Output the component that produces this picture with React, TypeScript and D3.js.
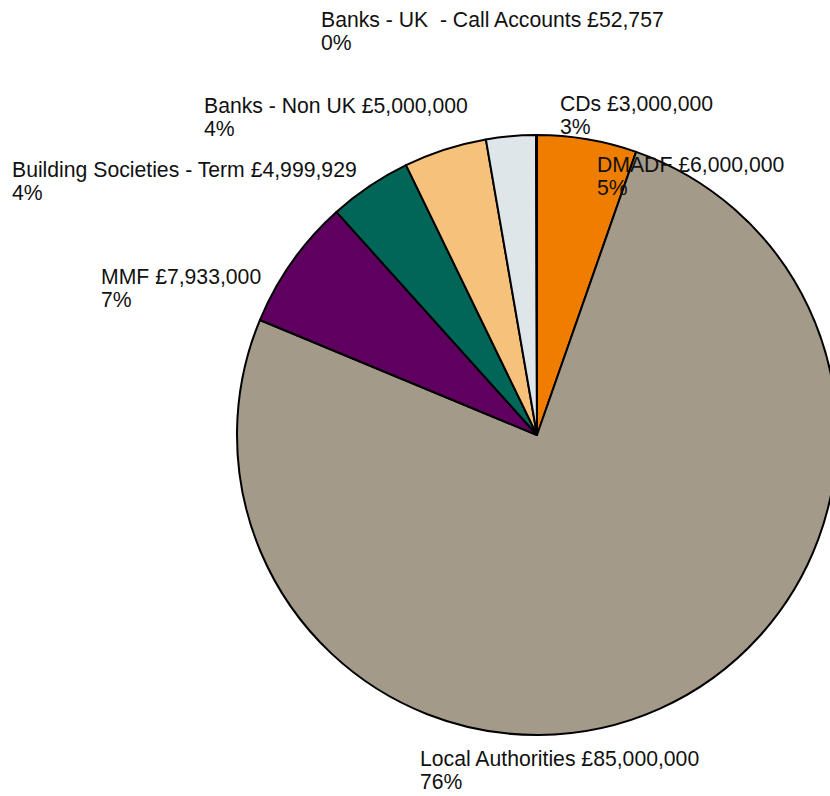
import React from "react";
import * as d3 from "d3";

const categories = [
  "DMADF",
  "Local Authorities",
  "MMF",
  "Building Societies - Term",
  "Banks - Non UK",
  "CDs",
  "Banks - UK  - Call Accounts",
];
const values = [6000000, 85000000, 7933000, 4999929, 5000000, 3000000, 52757];
const colors = ["#EE7D00", "#A39A89", "#5F0060", "#006658", "#F6C27B", "#DFE6EA", "#FFFFFF"];

// label anchor positions (left x, first baseline y)
const labelPos: [number, number][] = [
  [597, 172],
  [420, 766],
  [101, 284],
  [12, 177],
  [204, 113],
  [560, 111],
  [321, 27],
];

export default function App() {
  const W = 830, H = 796;
  const cx = 537, cy = 435, r = 300;
  const total = d3.sum(values);
  const pie = d3.pie<number>().sort(null).startAngle(0).endAngle(2 * Math.PI);
  const arcs = pie(values);
  const arc = d3.arc<d3.PieArcDatum<number>>().innerRadius(0).outerRadius(r);
  const fmt = d3.format(",");
  return (
    <svg width={W} height={H} style={{ position: "absolute", left: 0, top: 0, background: "#fff" }}
      fontFamily="'Liberation Sans', Arial, sans-serif" fontSize={21.2}>
      <g transform={`translate(${cx},${cy})`}>
        {arcs.map((a, i) => (
          <path key={i} d={arc(a) || ""} fill={colors[i]} stroke="#000" strokeWidth={2} strokeLinejoin="round" />
        ))}
      </g>
      {categories.map((c, i) => {
        const [x, y] = labelPos[i];
        const pct = Math.round((values[i] / total) * 100);
        return (
          <text key={i} x={x} y={y} fill="#111">
            <tspan x={x} style={{ whiteSpace: "pre" }}>{`${c} £${fmt(values[i])}`}</tspan>
            <tspan x={x} dy={22.5}>{`${pct}%`}</tspan>
          </text>
        );
      })}
    </svg>
  );
}
